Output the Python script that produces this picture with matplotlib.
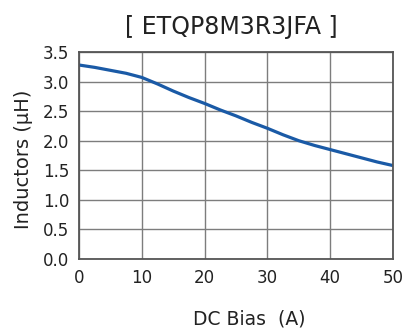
import numpy as np
import matplotlib
matplotlib.use('Agg')
import matplotlib.pyplot as plt

# 読み取った値 (2.5 A 刻み)
dc_bias = [0, 2.5, 5, 7.5, 10, 12.5, 15, 17.5, 20, 22.5, 25,
           27.5, 30, 32.5, 35, 37.5, 40, 42.5, 45, 47.5, 50]
inductance = [3.28, 3.24, 3.19, 3.14, 3.07, 2.96, 2.84, 2.73, 2.63, 2.52, 2.42,
              2.31, 2.21, 2.10, 2.00, 1.92, 1.85, 1.78, 1.71, 1.64, 1.58]
x_ticks = [0, 10, 20, 30, 40, 50]
y_ticks = [0.0, 0.5, 1.0, 1.5, 2.0, 2.5, 3.0, 3.5]

plt.rcParams['font.family'] = 'DejaVu Sans'

fig = plt.figure(figsize=(4.11, 3.31), dpi=100)
ax = fig.add_axes([79 / 411, 1 - 259 / 331, (393 - 79) / 411, (259 - 52) / 331])

ax.plot(dc_bias, inductance, color='#1a5aa6', linewidth=2.3,
        solid_joinstyle='round', solid_capstyle='butt')

ax.set_xlim(0, 50)
ax.set_ylim(0, 3.5)
ax.set_xticks(x_ticks)
ax.set_yticks(y_ticks)
ax.set_yticklabels([f"{v:.1f}" for v in y_ticks])
ax.tick_params(length=0, labelsize=12, colors='#222222')
ax.tick_params(axis='x', pad=7)
ax.tick_params(axis='y', pad=7)
ax.grid(True, color='#7d7d7d', linewidth=1.0)
for s in ax.spines.values():
    s.set_color('#555555')
    s.set_linewidth(1.3)

ax.set_title("[ ETQP8M3R3JFA ]", fontsize=17, pad=13, color='#222222', x=0.484)
ax.set_xlabel("DC Bias  (A)", fontsize=13.5, color='#222222')
ax.set_ylabel("Inductors (μH)", fontsize=14, color='#222222')
ax.xaxis.set_label_coords(0.541, -0.246)
ax.yaxis.set_label_coords(-0.146, 0.483)

fig.savefig('out.png', dpi=100)
